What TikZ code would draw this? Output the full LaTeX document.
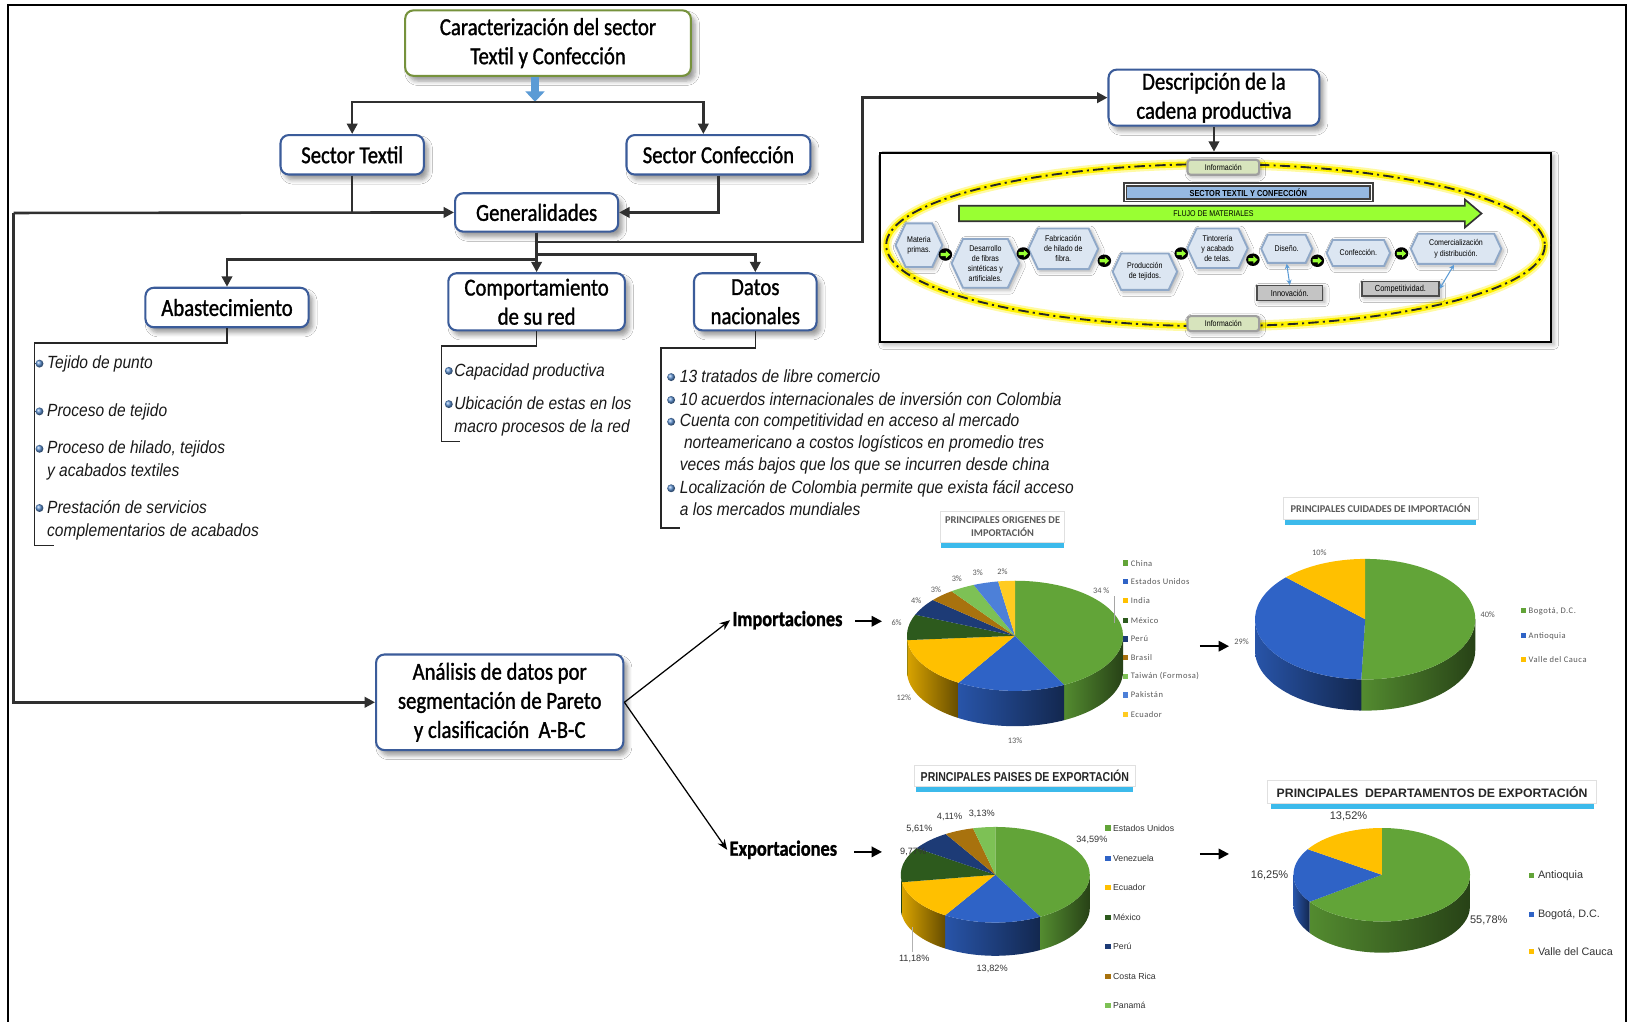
\documentclass[tikz,border=0pt]{standalone}
\usepackage{fontspec}
\setmainfont{Liberation Sans}
\newfontfamily\boxfont[FakeStretch=0.85,FakeBold=1.2]{Carlito}
\newfontfamily\listfont[FakeStretch=0.88]{Liberation Sans}
\newfontfamily\calfont{Carlito}
\newfontfamily\legfont[LetterSpace=6]{Carlito}
\newfontfamily\arialfont{Liberation Sans}
\newfontfamily\narrowfont[FakeStretch=0.82]{Liberation Sans}
\newfontfamily\chainfont[FakeStretch=0.85]{Liberation Sans}
\usetikzlibrary{arrows.meta,shapes.symbols,shadows,shadows.blur,calc}

\definecolor{boxblue}{HTML}{3B5C9A}
\definecolor{boxgreen}{HTML}{76923C}
\definecolor{conngray}{HTML}{303030}
\definecolor{flowblue}{HTML}{5B9BD5}
\definecolor{bullblue}{HTML}{5B8FD0}
\definecolor{hexfill}{HTML}{DCE6F2}
\definecolor{hexline}{HTML}{8FA8C8}
\definecolor{infofill}{HTML}{D7E4BD}
\definecolor{sectfill}{HTML}{95B9E2}
\definecolor{flujofill}{HTML}{99FF33}
\definecolor{grayfill}{HTML}{C4C4C4}
\definecolor{titleglow}{HTML}{1AAEE8}
\definecolor{textgray}{HTML}{595959}
\definecolor{pgreen}{HTML}{62A438}
\definecolor{pblue}{HTML}{2F63C6}
\definecolor{pyellow}{HTML}{FFC000}
\definecolor{pdkgreen}{HTML}{2D5A1D}
\definecolor{pnavy}{HTML}{1D3B76}
\definecolor{pbrown}{HTML}{A8720E}
\definecolor{pltgreen}{HTML}{7DC155}
\definecolor{pmidblue}{HTML}{4D80D8}
\definecolor{pgold}{HTML}{FFCB21}

% top face of a pie slice: rx, ry, start, end, colour
\newcommand\pietop[5]{\fill[#5] (0,0) -- (#3:#1 and #2) arc[start angle=#3, end angle=#4, x radius=#1, y radius=#2] -- cycle;}
% visible outer wall of a slice: rx, ry, depth, start, end, colour
\newcommand\pieside[6]{\shade[left color=#6!85!black, right color=#6!40!black] (#4:#1 and #2) arc[start angle=#4, end angle=#5, x radius=#1, y radius=#2] -- ++(0,-#3) arc[start angle=#5, end angle=#4, x radius=#1, y radius=#2] -- cycle;}

\tikzset{
  mainbox/.style={draw=boxblue, line width=1pt, fill=white, rounded corners=4pt, align=center, inner sep=0pt,
    font=\boxfont\fontsize{11.75}{14}\selectfont,
    blur shadow={shadow xshift=2pt, shadow yshift=-2.5pt, shadow opacity=40, shadow blur steps=5}},
  conn/.style={draw=conngray, line width=1.25pt, -{Triangle[length=5pt,width=5pt]}},
  rail/.style={draw=conngray, line width=1.25pt},
  brk/.style={draw=black!85, line width=0.75pt},
  item/.style={anchor=base west, inner sep=0pt, font=\listfont\itshape\fontsize{8.5}{10}\selectfont, text=black!90},
  bigarrow/.style={draw=black, line width=1pt, -{Triangle[length=5pt,width=5pt]}},
  thinarrow/.style={draw=black, line width=0.6pt, -{Stealth[length=5pt,width=4pt]}},
  lbl/.style={font=\boxfont\bfseries\fontsize{10.4}{12}\selectfont, inner sep=1pt},
  hexbox/.style={shape=signal, signal to=east and west, signal pointer angle=130, fill=hexfill, draw=hexline,
    line width=0.9pt, align=center, inner sep=0.3pt, font=\chainfont\fontsize{4}{4.85}\selectfont,
    blur shadow={shadow xshift=1pt, shadow yshift=-1pt, shadow opacity=35, shadow blur steps=3}},
  infobox/.style={rounded corners=1.5pt, fill=infofill, draw=gray!75, line width=1pt, inner sep=0pt,
    font=\chainfont\fontsize{4}{5}\selectfont, minimum width=34.5pt, minimum height=7.2pt,
    blur shadow={shadow xshift=1pt, shadow yshift=-1pt, shadow opacity=35, shadow blur steps=3}},
  graybox/.style={fill=grayfill, draw=black!70, line width=0.7pt, inner sep=0pt,
    font=\chainfont\fontsize{4.2}{5}\selectfont,
    blur shadow={shadow xshift=1pt, shadow yshift=-1pt, shadow opacity=35, shadow blur steps=3}},
  titlebox/.style={fill=white, draw=black!12, line width=0.4pt, align=center, inner sep=0pt,
    drop shadow={shadow xshift=0pt, shadow yshift=-3pt, shadow scale=0.98, fill=titleglow, opacity=0.85}},
  plab/.style={font=\calfont\fontsize{4}{5}\selectfont, text=textgray, inner sep=0pt},
  plabA/.style={font=\arialfont\fontsize{4.4}{5}\selectfont, text=black!80, inner sep=0pt},
  plabB/.style={font=\arialfont\fontsize{5.3}{6}\selectfont, text=black!80, inner sep=0pt},
  legA/.style={anchor=west, font=\legfont\fontsize{4.1}{5}\selectfont, text=textgray, inner sep=0pt},
  legB/.style={anchor=west, font=\arialfont\fontsize{4.2}{5}\selectfont, text=black!80, inner sep=0pt},
  legC/.style={anchor=west, font=\arialfont\fontsize{5.2}{6}\selectfont, text=black!80, inner sep=0pt},
  flowdot/.pic={
    \fill[black] (0,0) ellipse[x radius=6.5, y radius=6];
    \fill[flujofill] (-4.5,-1.6) -- (0.5,-1.6) -- (0.5,-3.6) -- (4.5,0) -- (0.5,3.6) -- (0.5,1.6) -- (-4.5,1.6) -- cycle;
  }
}

\begin{document}
\begin{tikzpicture}[x=0.5pt, y=-0.5pt]
\useasboundingbox (0,0) rectangle (1568,983);
\fill[white] (0,0) rectangle (1568,983);

% outer frame, open at the bottom
\draw[black, line width=1.1pt] (8,990) -- (8,5) -- (1565,5) -- (1565,990);

% ---------------- main boxes ----------------
\node[mainbox, draw=boxgreen, minimum width=137.5pt, minimum height=31.5pt] (carac) at (527.5,41.5) {Caracterización del sector\\Textil y Confección};
\node[mainbox, minimum width=69pt, minimum height=19pt] (stextil) at (339,149) {Sector Textil};
\node[mainbox, minimum width=88.5pt, minimum height=19pt] (sconf) at (691.5,149) {Sector Confección};
\node[mainbox, minimum width=78.5pt, minimum height=18.5pt] (gen) at (516.5,204.5) {Generalidades};
\node[mainbox, minimum width=78.5pt, minimum height=19pt] (abast) at (218.5,296) {Abastecimiento};
\node[mainbox, minimum width=85pt, minimum height=27.5pt] (comp) at (516.5,290.5) {Comportamiento\\de su red};
\node[mainbox, minimum width=59pt, minimum height=27.5pt] (datos) at (727,290.5) {Datos\\nacionales};
\node[mainbox, minimum width=101.5pt, minimum height=27pt] (desc) at (1168.5,94) {Descripción de la\\cadena productiva};
\node[mainbox, minimum width=119pt, minimum height=46pt] (anal) at (481,676) {Análisis de datos por\\segmentación de Pareto\\y clasificación\ \ A-B-C};

% ---------------- connectors ----------------
\coordinate (split) at (515,98);
\draw[flowblue, line width=4pt, -{Triangle[length=5pt,width=9pt]}] (carac.south -| split) -- (split);
\draw[conn, {Triangle[length=5pt,width=5pt]}-{Triangle[length=5pt,width=5pt]}] (stextil.north) |- (split) -| ([xshift=-7.25pt]sconf.north);

\coordinate (railtop) at (13,205);
\draw[conn] (railtop) -- (gen.west);
\draw[rail] (stextil.south) -- (stextil.south |- gen.west);
\draw[conn] (sconf.south) |- (gen.east);
\draw[conn] (railtop) |- (anal.west);

\coordinate (descbend) at (830,233);
\draw[conn] (gen.south) |- (descbend) |- (desc.west);
\coordinate (abastbr) at (218.5,250);
\coordinate (datosbr) at (727,245);
\draw[conn] (gen.south) |- (abastbr) -- (abast.north);
\draw[conn] (gen.south) |- (datosbr) -- (datos.north);
\draw[conn] (gen.south) -- (comp.north);

% ---------------- brackets and lists ----------------
\coordinate (abk1) at (33,330); \coordinate (abk2) at (33,525);
\draw[brk] (abast.south) |- (abk1) -- (abk2) -- ++(19,0);
\coordinate (cbk1) at (425,333); \coordinate (cbk2) at (425,425);
\draw[brk] (comp.south) |- (cbk1) -- (cbk2) -- ++(18,0);
\coordinate (dbk1) at (636,335); \coordinate (dbk2) at (636,508);
\draw[brk] (datos.south) |- (dbk1) -- (dbk2) -- ++(19,0);

\foreach \bx/\by in {38/350,38/396,38/432,38/489,432/357,432/389,646/363,646/385,646/406,646/470}
  \shade[ball color=bullblue] (\bx,\by) circle (3.8);

\node[item] (a1) at (45,355) {Tejido de punto};
\node[item] (a2) at (45,401) {Proceso de tejido};
\node[item] (a3) at (45,437) {Proceso de hilado, tejidos};
\node[item] (a4) at (45,459) {y acabados textiles};
\node[item] (a5) at (45,494) {Prestación de servicios};
\node[item] (a6) at (45,516) {complementarios de acabados};

\node[item] (c1) at (437,362) {Capacidad productiva};
\node[item] (c2) at (437,394) {Ubicación de estas en los};
\node[item] (c3) at (437,416) {macro procesos de la red};

\node[item] (d1) at (654,368) {13 tratados de libre comercio};
\node[item] (d2) at (654,390) {10 acuerdos internacionales de inversión con Colombia};
\node[item] (d3) at (654,411) {Cuenta con competitividad en acceso al mercado};
\node[item] (d4) at (658,432) {norteamericano a costos logísticos en promedio tres};
\node[item] (d5) at (654,453) {veces más bajos que los que se incurren desde china};
\node[item] (d6) at (654,475) {Localización de Colombia permite que exista fácil acceso};
\node[item] (d7) at (654,496) {a los mercados mundiales};

% ---------------- production chain panel ----------------
\node[draw=black, line width=1pt, fill=white, minimum width=323pt, minimum height=91pt,
  blur shadow={shadow xshift=1.5pt, shadow yshift=-1.5pt, shadow opacity=30, shadow blur steps=4}] (chain) at (1170,238) {};
\draw[conn] (desc.south) -- (desc.south |- chain.north);

\draw[yellow!80!white, line width=5pt, opacity=0.45] (1170,236) ellipse[x radius=317, y radius=78];
\draw[yellow, line width=2.8pt] (1170,236) ellipse[x radius=317, y radius=78];
\draw[black!85, line width=0.9pt, dash pattern=on 5pt off 2pt on 1pt off 2pt] (1170,236) ellipse[x radius=317, y radius=78];

\node[infobox] (infotop) at (1177.5,161) {Información};
\node[infobox] (infobot) at (1177.5,311.5) {Información};
\node[fill=sectfill, draw=black!75, line width=0.9pt, double=white, double distance=0.4pt, minimum width=118.5pt, minimum height=7.5pt, inner sep=0pt,
  font=\chainfont\bfseries\fontsize{4.2}{5}\selectfont] (sector) at (1201.5,185) {SECTOR TEXTIL Y CONFECCIÓN};

\filldraw[fill=flujofill, draw=black!80, line width=0.8pt] (923,198) -- (1410,198) -- (1410,192) -- (1426,205.5) -- (1410,219) -- (1410,213) -- (923,213) -- cycle;
\node[font=\chainfont\fontsize{4}{5}\selectfont, inner sep=0pt] (flujo) at (1168,205.5) {FLUJO DE MATERIALES};

\node[hexbox, minimum width=22.5pt, minimum height=21pt] (h1) at (884.5,236) {Materia\\primas.};
\node[hexbox, minimum width=32.5pt, minimum height=23.5pt] (h2) at (948.5,253.5) {Desarrollo\\de fibras\\sintéticas y\\artificiales.};
\node[hexbox, minimum width=33.5pt, minimum height=19.5pt] (h3) at (1023.5,239.5) {Fabricación\\de hilado de\\fibra.};
\node[hexbox, minimum width=31pt, minimum height=17.5pt] (h4) at (1102,261.5) {Producción\\de tejidos.};
\node[hexbox, minimum width=29pt, minimum height=19pt] (h5) at (1172,239) {Tintorería\\y acabado\\de telas.};
\node[hexbox, minimum width=24.5pt, minimum height=13.5pt] (h6) at (1238.5,239.5) {Diseño.};
\node[hexbox, minimum width=30.5pt, minimum height=12.5pt] (h7) at (1307.5,243.5) {Confección.};
\node[hexbox, minimum width=43.5pt, minimum height=14.5pt] (h8) at (1401.5,239.5) {Comercialización\\y distribución.};

\foreach \fx/\fy in {910/245,985/244,1063/251,1137/244,1206/250,1268/251,1349/244}
  \pic at (\fx,\fy) {flowdot};

\node[graybox, minimum width=31.5pt, minimum height=7pt] (innov) at (1241.5,282) {Innovación.};
\node[graybox, minimum width=37pt, minimum height=7pt] (compet) at (1348,278) {Competitividad.};
\draw[flowblue, line width=0.5pt, {Stealth[length=2.5pt,width=2.5pt]}-{Stealth[length=2.5pt,width=2.5pt]}] (h6.south) -- (innov.north);
\draw[flowblue, line width=0.5pt, {Stealth[length=2.5pt,width=2.5pt]}-{Stealth[length=2.5pt,width=2.5pt]}] (compet.east) -- ([xshift=-1pt]h8.south);

% ---------------- imports / exports ----------------
\node[lbl] (imp) at (758,597) {Importaciones};
\node[lbl] (exp) at (754,818) {Exportaciones};
\draw[thinarrow] (anal.east) -- (imp.west);
\draw[thinarrow] (anal.east) -- (exp.west);
\coordinate (impend) at (849,598);
\coordinate (expend) at (849,820);
\draw[bigarrow] ([xshift=5pt]imp.east |- impend) -- (impend);
\draw[bigarrow] ([xshift=7pt]exp.east |- expend) -- (expend);
\coordinate (p12a) at (1155,622); \coordinate (p12b) at (1183,622);
\coordinate (p34a) at (1155,822); \coordinate (p34b) at (1183,822);
\draw[bigarrow] (p12a) -- (p12b);
\draw[bigarrow] (p34a) -- (p34b);

% ---------------- chart 1: origins of imports ----------------
\node[titlebox, minimum width=60pt, minimum height=15pt, font=\calfont\bfseries\fontsize{5}{6.6}\selectfont, text=textgray] (t1) at (965,507) {PRINCIPALES ORIGENES DE\\IMPORTACIÓN};
\begin{scope}[shift={(977,612)}, yscale=-1]
  \pieside{104}{53}{34}{0}{-63}{pgreen}
  \pieside{104}{53}{34}{-63}{-121.5}{pblue}
  \pieside{104}{53}{34}{-121.5}{-175.5}{pyellow}
  \pieside{104}{53}{34}{-175.5}{-180}{pdkgreen}
  \pietop{104}{53}{90}{-63}{pgreen}
  \pietop{104}{53}{-63}{-121.5}{pblue}
  \pietop{104}{53}{-121.5}{-175.5}{pyellow}
  \pietop{104}{53}{-175.5}{-202.5}{pdkgreen}
  \pietop{104}{53}{-202.5}{-220.5}{pnavy}
  \pietop{104}{53}{-220.5}{-234}{pbrown}
  \pietop{104}{53}{-234}{-247.5}{pltgreen}
  \pietop{104}{53}{-247.5}{-261}{pmidblue}
  \pietop{104}{53}{-261}{-270}{pgold}
\end{scope}
\draw[gray!70, line width=0.4pt] (1073,574) -- (1073,600);
\foreach \lx/\ly/\lt [count=\i] in {1060/569/34 \%,977/713/13\%,870/672/12\%,863/599/6\%,882/578/4\%,901/568/3\%,921/557/3\%,941/551/3\%,965/550/2\%}
  \node[plab] (pa\i) at (\lx,\ly) {\lt};
\foreach \lt/\lc/\ly [count=\i] in {China/pgreen/542,Estados Unidos/pblue/560,India/pyellow/578,México/pdkgreen/597,Perú/pnavy/615,Brasil/pbrown/633,Taiwán (Formosa)/pltgreen/651,Pakistán/pmidblue/669,Ecuador/pgold/688}{
  \fill[\lc] (1081,\ly-2.5) rectangle (1086,\ly+2.5);
  \node[legA] (la\i) at (1088,\ly) {\lt};
}

% ---------------- chart 2: import cities ----------------
\node[titlebox, minimum width=94pt, minimum height=10.5pt, font=\calfont\bfseries\fontsize{5}{6}\selectfont, text=textgray] (t2) at (1329,489.5) {PRINCIPALES CUIDADES DE IMPORTACIÓN};
\begin{scope}[shift={(1314,596)}, yscale=-1]
  \pieside{106}{58}{30}{0}{-92}{pgreen}
  \pieside{106}{58}{30}{-92}{-180}{pblue}
  \pietop{106}{58}{90}{-92}{pgreen}
  \pietop{106}{58}{-92}{-224}{pblue}
  \pietop{106}{58}{-224}{-270}{pyellow}
\end{scope}
\foreach \lx/\ly/\lt [count=\i] in {1270/532/10\%,1432/592/40\%,1195/618/29\%}
  \node[plab] (pb\i) at (\lx,\ly) {\lt};
\foreach \lt/\lc/\ly [count=\i] in {{Bogotá, D.C.}/pgreen/588,Antioquia/pblue/612,Valle del Cauca/pyellow/635}{
  \fill[\lc] (1464,\ly-2.5) rectangle (1469,\ly+2.5);
  \node[legA] (lb\i) at (1471,\ly) {\lt};
}

% ---------------- chart 3: export countries ----------------
\node[titlebox, minimum width=106.5pt, minimum height=10pt, font=\narrowfont\bfseries\fontsize{6.2}{7}\selectfont, text=black!85] (t3) at (986.5,747) {PRINCIPALES PAISES DE EXPORTACIÓN};
\begin{scope}[shift={(958,842)}, yscale=-1]
  \pieside{91}{46}{32}{0}{-61.5}{pgreen}
  \pieside{91}{46}{32}{-61.5}{-122}{pblue}
  \pieside{91}{46}{32}{-122}{-171}{pyellow}
  \pieside{91}{46}{32}{-171}{-180}{pdkgreen}
  \pietop{91}{46}{90}{-61.5}{pgreen}
  \pietop{91}{46}{-61.5}{-122}{pblue}
  \pietop{91}{46}{-122}{-171}{pyellow}
  \pietop{91}{46}{-171}{-213.8}{pdkgreen}
  \pietop{91}{46}{-213.8}{-238.4}{pnavy}
  \pietop{91}{46}{-238.4}{-256.4}{pbrown}
  \pietop{91}{46}{-256.4}{-270}{pltgreen}
\end{scope}
\draw[gray!60, line width=0.4pt] (878,892) -- (878,916);
\foreach \lx/\ly/\lt [count=\i] in {1051/808/{34,59\%},955/933/{13,82\%},880/923/{11,18\%},879/820/{9,77\%},885/798/{5,61\%},914/786/{4,11\%},945/783/{3,13\%}}
  \node[plabA] (pc\i) at (\lx,\ly) {\lt};
\foreach \lt/\lc/\ly [count=\i] in {Estados Unidos/pgreen/797,Venezuela/pblue/826,Ecuador/pyellow/854,México/pdkgreen/883,Perú/pnavy/911,Costa Rica/pbrown/940,Panamá/pltgreen/968}{
  \fill[\lc] (1064,\ly-2.5) rectangle (1069,\ly+2.5);
  \node[legB] (lc\i) at (1071,\ly) {\lt};
}

% ---------------- chart 4: export departments ----------------
\node[titlebox, minimum width=158.5pt, minimum height=11pt, font=\arialfont\bfseries\fontsize{5.9}{7}\selectfont, text=black!85] (t4) at (1378.5,762) {PRINCIPALES\ \ DEPARTAMENTOS DE EXPORTACIÓN};
\begin{scope}[shift={(1330,842)}, yscale=-1]
  \pieside{85}{45}{30}{0}{-144.7}{pgreen}
  \pieside{85}{45}{30}{-144.7}{-180}{pblue}
  \pietop{85}{45}{90}{-144.7}{pgreen}
  \pietop{85}{45}{-144.7}{-213.1}{pblue}
  \pietop{85}{45}{-213.1}{-270}{pyellow}
\end{scope}
\foreach \lx/\ly/\lt [count=\i] in {1298/786/{13,52\%},1222/843/{16,25\%},1433/886/{55,78\%}}
  \node[plabB] (pd\i) at (\lx,\ly) {\lt};
\foreach \lt/\lc/\ly [count=\i] in {Antioquia/pgreen/843,{Bogotá, D.C.}/pblue/880,Valle del Cauca/pyellow/916}{
  \fill[\lc] (1472,\ly-2.5) rectangle (1477,\ly+2.5);
  \node[legC] (ld\i) at (1480,\ly) {\lt};
}

\end{tikzpicture}
\end{document}
